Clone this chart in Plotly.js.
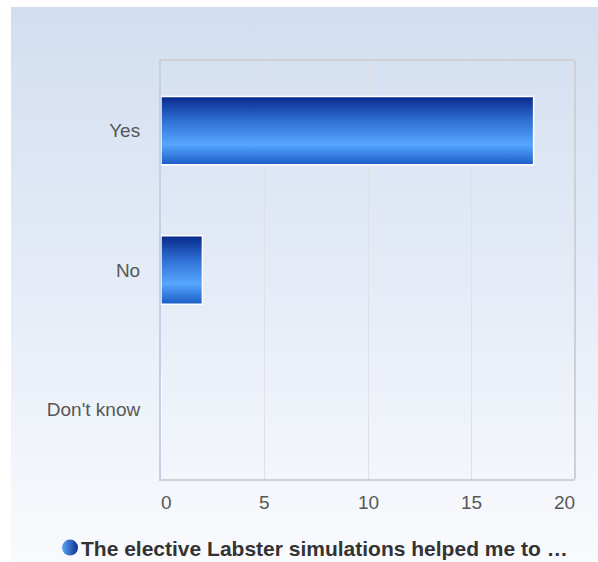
<!DOCTYPE html>
<html>
<head>
<meta charset="utf-8">
<script src="https://cdn.plot.ly/plotly-3.0.1.min.js"></script>
<style>
  html, body { margin: 0; padding: 0; background: #ffffff; }
  #wrap { position: relative; width: 598px; height: 562px; overflow: hidden; }
  #bg { position: absolute; left: 11px; top: 7px; width: 587px; height: 555px;
        background: linear-gradient(to bottom, #d2def0 0%, #e5ecf7 50%, #f9fafd 100%); }
  #chart { position: absolute; left: 0; top: 0; width: 598px; height: 562px; }
</style>
</head>
<body>
<div id="wrap">
  <div id="bg"></div>
  <div id="chart"></div>
</div>
<script>
// ---- data ----
const categories = ["Yes", "No", "Don't know"];
const values = [18, 2, 0];
const seriesName = "The elective Labster simulations helped me to \u2026";
const xTicks = [0, 5, 10, 15, 20];

// ---- styling ----
const halfWidth = 0.245;
const gradientScale = [[0, '#07288b'], [0.35, '#2f6fd4'], [0.7, '#56a6ff'], [1, '#1a5cc6']];
const tickFont = { size: 19, color: '#575757', family: '"Liberation Sans", Arial, sans-serif' };

const positions = categories.map((c, i) => i);

const traces = [];
// base bar trace (data carrier)
traces.push({
  type: 'bar',
  orientation: 'h',
  x: values,
  y: positions,
  width: 2 * halfWidth,
  marker: { color: '#3a7ee0', line: { color: '#ffffff', width: 1 } },
  showlegend: false,
  hoverinfo: 'skip'
});
// gradient overlays built from the same data
values.forEach((v, i) => {
  if (!(v > 0)) return;
  const y0 = positions[i] - halfWidth, y1 = positions[i] + halfWidth;
  traces.push({
    type: 'scatter',
    mode: 'lines',
    x: [0, v, v, 0, 0],
    y: [y0, y0, y1, y1, y0],
    fill: 'toself',
    fillgradient: { type: 'vertical', colorscale: gradientScale, start: y0, stop: y1 },
    line: { color: '#ffffff', width: 1.5 },
    showlegend: false,
    hoverinfo: 'skip'
  });
});
// legend entry
traces.push({
  type: 'scatter',
  mode: 'markers',
  x: [null],
  y: [null],
  name: seriesName,
  marker: { symbol: 'circle', size: 16, color: '#5ea6f8',
            gradient: { type: 'horizontal', color: '#0a2d8e' } },
  showlegend: true
});

// x tick labels: first left-aligned, last right-aligned
const xLabelAnnotations = xTicks.map((t, i) => {
  const first = i === 0, last = i === xTicks.length - 1;
  return {
    x: t, xref: 'x', y: 0, yref: 'paper',
    text: String(t),
    showarrow: false,
    xanchor: first ? 'left' : (last ? 'right' : 'center'),
    xshift: first ? -2 : (last ? 2 : 0),
    yanchor: 'top',
    yshift: -11,
    font: tickFont
  };
});

const layout = {
  width: 598,
  height: 562,
  paper_bgcolor: 'rgba(0,0,0,0)',
  plot_bgcolor: 'rgba(0,0,0,0)',
  margin: { l: 161, r: 23, t: 61, b: 83 },
  font: { family: '"Liberation Sans", Arial, sans-serif', color: '#555555' },
  xaxis: {
    range: [0, 20],
    tickvals: xTicks,
    showticklabels: false,
    showgrid: true,
    gridcolor: '#dfe1e6',
    gridwidth: 1,
    zeroline: false,
    showline: true,
    mirror: true,
    linecolor: '#cfd0d3',
    linewidth: 2,
    ticks: '',
    fixedrange: true
  },
  yaxis: {
    range: [2.5, -0.5],
    tickvals: positions,
    ticktext: categories,
    showgrid: false,
    zeroline: false,
    showline: true,
    linecolor: '#c6d0e4',
    linewidth: 2,
    ticks: '',
    ticklabelstandoff: 15,
    tickfont: tickFont,
    fixedrange: true
  },
  annotations: xLabelAnnotations,
  shapes: [
    { type: 'line', xref: 'paper', yref: 'paper', x0: 1, x1: 1, y0: 0, y1: 1,
      line: { color: '#cfd0d3', width: 2 } }
  ],
  showlegend: true,
  legend: {
    orientation: 'h',
    xref: 'container', yref: 'container',
    x: 50 / 598, xanchor: 'left',
    y: 0.025, yanchor: 'middle',
    bgcolor: 'rgba(0,0,0,0)',
    font: { size: 21, color: '#333333', family: '"Liberation Sans", Arial, sans-serif', weight: 'bold' },
    itemwidth: 30
  },
  bargap: 0.5
};

Plotly.newPlot('chart', traces, layout, { displayModeBar: false, staticPlot: true }).then(() => {
  // tighten the gap between the legend symbol and its text
  document.querySelectorAll('#chart .legendtext').forEach(t => {
    const x = parseFloat(t.getAttribute('x')) || 0;
    t.setAttribute('x', x - 9);
  });
});
</script>
</body>
</html>
